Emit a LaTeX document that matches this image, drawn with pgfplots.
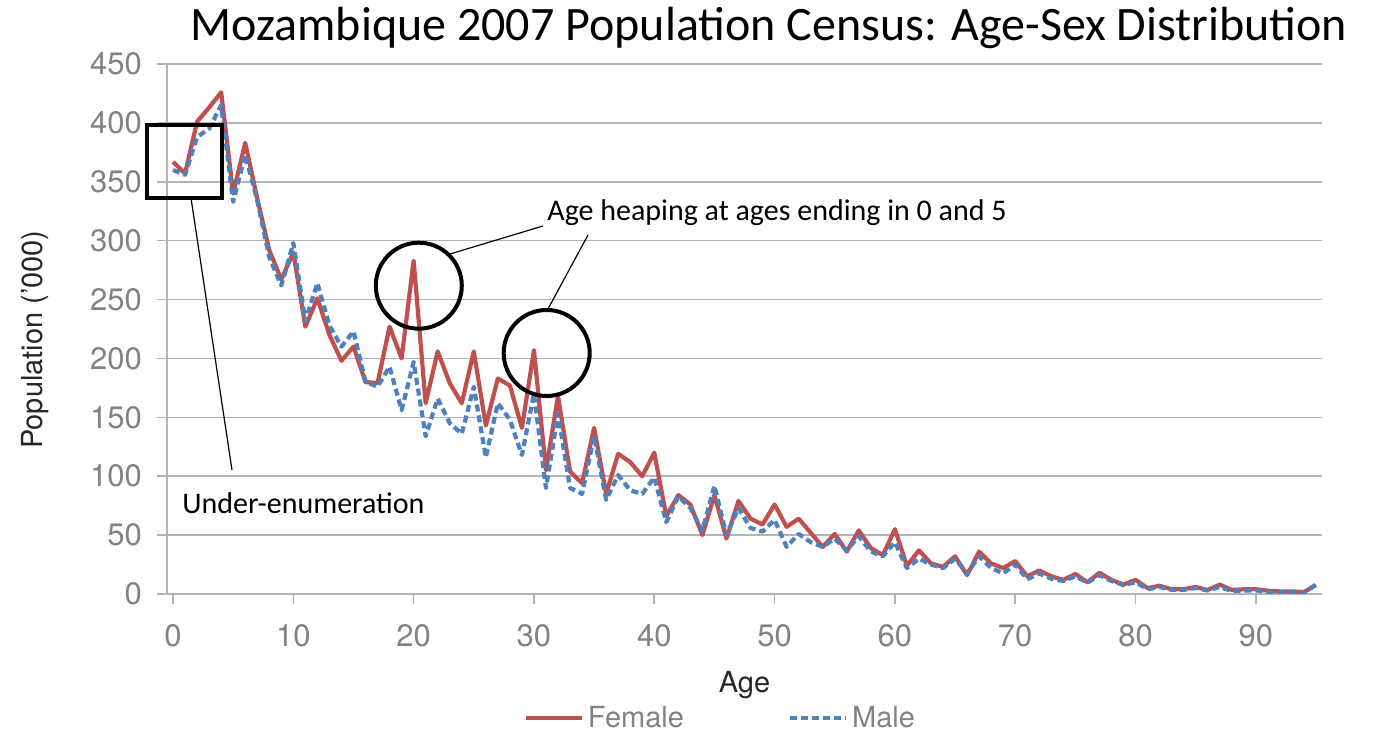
\documentclass[border=0pt]{standalone}
\usepackage{fontspec}
\setmainfont{TeX Gyre Heros}
\newfontfamily\calibri{Carlito}
\usepackage{pgfplots}
\pgfplotsset{compat=1.18}
\definecolor{fem}{RGB}{192,80,77}
\definecolor{mal}{RGB}{79,129,189}
\definecolor{gridc}{RGB}{180,180,180}
\definecolor{tickc}{RGB}{130,130,130}
\pgfplotstableread{
age val
0 367
1 357
2 401
3 413
4 426
5 340
6 383
7 336
8 292
9 267
10 290
11 227
12 251
13 220
14 198
15 210
16 180
17 179
18 227
19 200
20 283
21 162
22 206
23 179
24 162
25 206
26 143
27 183
28 177
29 141
30 207
31 105
32 168
33 104
34 94
35 141
36 85
37 119
38 112
39 100
40 120
41 66
42 84
43 76
44 50
45 84
46 47
47 79
48 64
49 59
50 76
51 57
52 64
53 52
54 40
55 51
56 36
57 54
58 39
59 33
60 55
61 24
62 37
63 26
64 23
65 32
66 16
67 36
68 26
69 22
70 28
71 15
72 20
73 15
74 12
75 17
76 10
77 18
78 12
79 8
80 12
81 5
82 7
83 4
84 4
85 6
86 3.4
87 8
88 3.4
89 4
90 4
91 2.8
92 2.2
93 2.2
94 1.7
95 7.6
}\female
\pgfplotstableread{
age val
0 360
1 356
2 388
3 395
4 415
5 333
6 373
7 334
8 286
9 262
10 298
11 232
12 264
13 228
14 210
15 223
16 180
17 176
18 193
19 156
20 197
21 134
22 166
23 145
24 136
25 176
26 116
27 162
28 148
29 118
30 170
31 90
32 153
33 90
34 85
35 134
36 80
37 101
38 88
39 85
40 99
41 61
42 83
43 73
44 54
45 92
46 50
47 73
48 56
49 53
50 63
51 40
52 51
53 44
54 40
55 47
56 37
57 49
58 36
59 32
60 44
61 22
62 30
63 25
64 22
65 30
66 17.5
67 32
68 22
69 17.5
70 25
71 12.5
72 17.5
73 13
74 11
75 15
76 9.6
77 16
78 11
79 7.5
80 10
81 4
82 6
83 3.5
84 3.5
85 5
86 3
87 6
88 2.5
89 3
90 3
91 2
92 1.5
93 1.5
94 1.2
95 8
}\male
\begin{document}
\begin{tikzpicture}
\useasboundingbox (-83.5pt,-69.5pt) rectangle (603pt,297pt);
\begin{axis}[
 at={(0pt,0pt)}, anchor=south west,
 scale only axis, width=577.5pt, height=265pt,
 xmin=-0.5, xmax=95.5, ymin=0, ymax=450,
 axis x line=bottom, axis y line=left,
 axis line style={-, draw=gridc, line width=0.8pt},
 xtick={0,10,...,90}, ytick={0,50,...,450},
 ymajorgrids, grid style={gridc, line width=0.8pt},
 tick align=outside, major tick length=5pt,
 tick style={gridc, line width=0.8pt},
 ticklabel style={font=\fontsize{15.5}{15.5}\selectfont, text=tickc},
 /pgf/number format/assume math mode=true,
 xticklabel style={yshift=-6.5pt},
 yticklabel style={xshift=-4pt},
 xlabel={Age}, ylabel={Population ('000)},
 label style={font=\fontsize{14.5}{14.5}\selectfont, text=black!85},
 xlabel style={at={(axis description cs:0.5,-0.172)}, anchor=center},
 ylabel style={at={(axis description cs:-0.114,0.48)}, anchor=center},
 legend columns=2,
 legend style={at={(axis description cs:0.48,-0.234)}, anchor=center, draw=none, fill=none,
   font=\fontsize{14.5}{14.5}\selectfont, text=tickc,
   /tikz/every even column/.append style={column sep=50pt}},
 legend image code/.code={\draw[#1] (0pt,0pt) -- (28pt,0pt);},
]
\addplot[fem, line width=2.1pt, line join=round] table[x=age,y=val] {\female};
\addlegendentry{Female}
\addplot[mal, line width=2.1pt, line join=round, dash pattern=on 3.5pt off 2pt] table[x=age,y=val] {\male};
\addlegendentry{Male}
\end{axis}
\node[font=\calibri\fontsize{24}{24}\selectfont, anchor=center] at (301pt,283pt) {Mozambique 2007 Population Census: Age-Sex Distribution};
\draw[line width=2pt] (-10pt,234.5pt) rectangle (27.5pt,198pt);
\draw[line width=0.6pt] (12pt,198pt) -- (32.5pt,62pt);
\node[font=\calibri\fontsize{15}{15}\selectfont, anchor=west, inner sep=0pt] at (7.5pt,45.5pt) {Under-enumeration};
\draw[line width=2pt] (125.9pt,154.15pt) circle[radius=21.5pt];
\draw[line width=2pt] (189.85pt,120.5pt) circle[radius=21.5pt];
\draw[line width=0.6pt] (141.5pt,170pt) -- (188pt,184pt);
\draw[line width=0.6pt] (190.5pt,142.5pt) -- (210.5pt,179.5pt);
\node[font=\calibri\fontsize{15}{15}\selectfont, anchor=west, inner sep=0pt] at (190pt,190.5pt) {Age heaping at ages ending in 0 and 5};
\end{tikzpicture}
\end{document}
